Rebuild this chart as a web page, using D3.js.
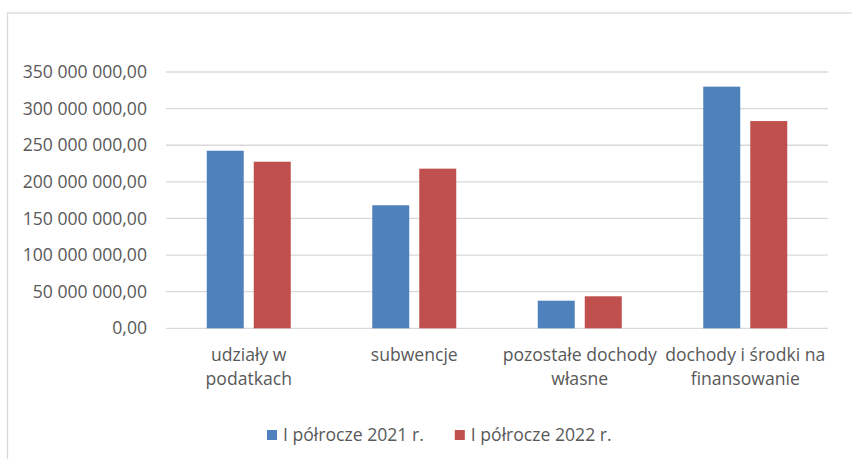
<!DOCTYPE html>
<html>
<head>
<meta charset="utf-8">
<script src="https://cdn.jsdelivr.net/npm/d3@7"></script>
<style>
  body { margin: 0; background: #fff; }
  svg { display: block; }
</style>
</head>
<body>
<div id="chart-container"></div>
<script>
// Chart data

const categories = ["udziały w podatkach", "subwencje", "pozostałe dochody własne", "dochody i środki na finansowanie"];
const categoryLines = [["udziały w", "podatkach"], ["subwencje"], ["pozostałe dochody", "własne"], ["dochody i środki na", "finansowanie"]];
const seriesNames = ["I półrocze 2021 r.", "I półrocze 2022 r."];
const values2021 = [242.5e6, 168e6, 37.7e6, 330e6];
const values2022 = [227.5e6, 218e6, 43.7e6, 283e6];
const yTicks = [0, 50e6, 100e6, 150e6, 200e6, 250e6, 300e6, 350e6];
const colors = ["#4f81bd", "#c0504d"];

// Dimensions

const width = 852;
const height = 459;
const plot = { left: 166, right: 828, top: 72, bottom: 328.3 };
const font = "'Open Sans', sans-serif";
const fontSize = 17.6;
const textColor = "#595959";

const svg = d3.select("#chart-container")
  .append("svg")
  .attr("width", width)
  .attr("height", height);

// Chart frame (cut off on the right and bottom, as in the source)
svg.append("rect")
  .attr("x", 7.5)
  .attr("y", 13)
  .attr("width", width + 20)
  .attr("height", height + 20)
  .attr("fill", "#fff")
  .attr("stroke", "#d9d9d9")
  .attr("stroke-width", 1.3);

// Scales

const xScale = d3.scaleBand()
  .domain(categories)
  .range([plot.left, plot.right])
  .padding(0);

const groupWidth = 84;
const xInner = d3.scaleBand()
  .domain(seriesNames)
  .range([(xScale.bandwidth() - groupWidth) / 2, (xScale.bandwidth() + groupWidth) / 2])
  .paddingInner(0.213);

const yScale = d3.scaleLinear()
  .domain([0, 350e6])
  .range([plot.bottom, plot.top]);

const plFormat = d3.formatLocale({ decimal: ",", thousands: "\u00a0", grouping: [3], currency: ["", " zł"] }).format(",.2f");

// Horizontal gridlines

svg.append("g")
  .selectAll("line")
  .data(yTicks)
  .join("line")
  .attr("x1", plot.left)
  .attr("x2", plot.right)
  .attr("y1", (d) => yScale(d))
  .attr("y2", (d) => yScale(d))
  .attr("stroke", "#d9d9d9")
  .attr("stroke-width", 1.3);

// Y axis labels

svg.append("g")
  .attr("transform", `translate(${plot.left}, 0)`)
  .call(d3.axisLeft(yScale).tickValues(yTicks).tickFormat(plFormat).tickSize(0).tickPadding(19))
  .call((g) => g.select(".domain").remove())
  .selectAll(".tick text")
  .attr("fill", textColor)
  .style("font-family", font)
  .style("font-size", fontSize + "px");

// Bars

const table = categories.map((c, i) => ({ category: c, values: [values2021[i], values2022[i]] }));

svg.append("g")
  .selectAll("g")
  .data(table)
  .join("g")
  .attr("transform", (d) => `translate(${xScale(d.category)}, 0)`)
  .selectAll("rect")
  .data((d) => d.values.map((v, j) => ({ series: seriesNames[j], value: v, color: colors[j] })))
  .join("rect")
  .attr("x", (d) => xInner(d.series))
  .attr("width", xInner.bandwidth())
  .attr("y", (d) => yScale(d.value))
  .attr("height", (d) => yScale(0) - yScale(d.value))
  .attr("fill", (d) => d.color);

// Category labels

const catLabels = svg.append("g")
  .selectAll("text")
  .data(categories)
  .join("text")
  .attr("x", (d) => xScale(d) + xScale.bandwidth() / 2)
  .attr("y", 361)
  .attr("text-anchor", "middle")
  .attr("fill", textColor)
  .style("font-family", font)
  .style("font-size", fontSize + "px");

catLabels.selectAll("tspan")
  .data((d, i) => categoryLines[i])
  .join("tspan")
  .attr("x", function () { return d3.select(this.parentNode).attr("x"); })
  .attr("dy", (d, i) => (i === 0 ? 0 : 24))
  .text((d) => d);

// Legend

const legend = svg.append("g");
let legendX = 267;
seriesNames.forEach((name, i) => {
  legend.append("rect")
    .attr("x", legendX)
    .attr("y", 430)
    .attr("width", 10)
    .attr("height", 10)
    .attr("fill", colors[i]);
  const t = legend.append("text")
    .attr("x", legendX + 16)
    .attr("y", 441)
    .attr("fill", textColor)
    .style("font-family", font)
    .style("font-size", fontSize + "px")
    .text(name);
  legendX += 16 + t.node().getComputedTextLength() + 31;
});
</script>
</body>
</html>
